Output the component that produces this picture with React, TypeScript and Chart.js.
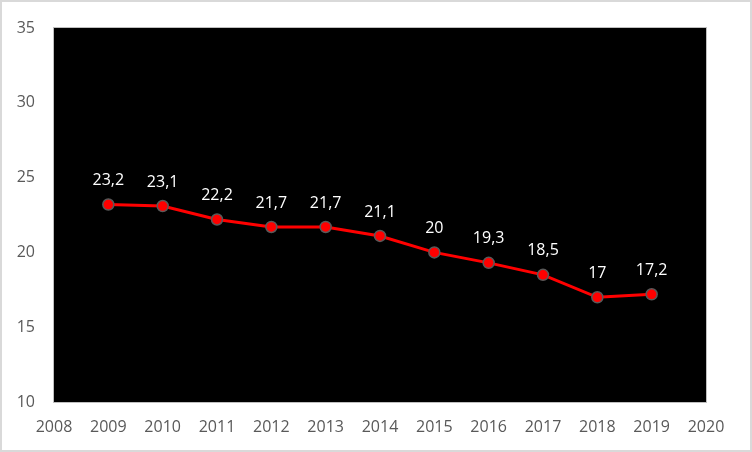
import { useEffect, useRef } from 'react';
import { Chart, registerables } from 'chart.js';

Chart.register(...registerables);

// values
const years = [2009, 2010, 2011, 2012, 2013, 2014, 2015, 2016, 2017, 2018, 2019];
const rates = [23.2, 23.1, 22.2, 21.7, 21.7, 21.1, 20, 19.3, 18.5, 17, 17.2];

const FONT = "'Open Sans', 'Noto Sans', sans-serif";

const frame = {
  id: 'frame',
  beforeDraw(chart: any) {
    const { ctx, chartArea: a, width, height } = chart;
    ctx.save();
    ctx.fillStyle = '#ffffff';
    ctx.fillRect(0, 0, width, height);
    ctx.strokeStyle = '#d9d9d9';
    ctx.lineWidth = 2;
    ctx.strokeRect(1, 1, width - 2, height - 2);
    ctx.fillStyle = '#000000';
    ctx.fillRect(a.left, a.top, a.right - a.left, a.bottom - a.top);
    ctx.strokeStyle = '#bfbfbf';
    ctx.lineWidth = 1;
    ctx.strokeRect(a.left - 0.5, a.top - 0.5, a.right - a.left + 1, a.bottom - a.top + 1);
    ctx.restore();
  },
};

const valueLabels = {
  id: 'valueLabels',
  afterDatasetsDraw(chart: any) {
    const { ctx } = chart;
    const meta = chart.getDatasetMeta(0);
    ctx.save();
    ctx.fillStyle = '#ffffff';
    ctx.font = `16px ${FONT}`;
    ctx.textAlign = 'center';
    ctx.textBaseline = 'middle';
    meta.data.forEach((pt: any, i: number) => {
      ctx.fillText(String(rates[i]).replace('.', ','), pt.x, pt.y - 24);
    });
    ctx.restore();
  },
};

const App = () => {
  const canvasRef = useRef<HTMLCanvasElement>(null);

  useEffect(() => {
    document.body.style.margin = '0';
    if (!canvasRef.current) return;
    const chart = new Chart(canvasRef.current, {
      type: 'line',
      data: {
        datasets: [{
          data: years.map((y, i) => ({ x: y, y: rates[i] })),
          borderColor: '#ff0000',
          borderWidth: 3,
          backgroundColor: '#ff0000',
          pointRadius: 5.5,
          pointBorderColor: '#595959',
          pointBorderWidth: 1.5,
          tension: 0,
        }],
      },
      options: {
        animation: false,
        responsive: false,
        layout: { padding: { top: 28, right: 46, left: 0, bottom: 0 } },
        plugins: { legend: { display: false }, tooltip: { enabled: false } },
        scales: {
          x: {
            type: 'linear',
            min: 2008,
            max: 2020,
            grid: { display: false },
            border: { display: false },
            afterFit: (s: any) => { s.height = 50; },
            ticks: {
              stepSize: 1,
              padding: 8,
              color: '#595959',
              font: { family: FONT, size: 16 },
              callback: (v: any) => String(v),
            },
          },
          y: {
            min: 10,
            max: 35,
            grid: { display: false },
            border: { display: false },
            afterFit: (s: any) => { s.width = 54; },
            ticks: {
              stepSize: 5,
              padding: 11,
              color: '#595959',
              font: { family: FONT, size: 16 },
            },
          },
        },
      },
      plugins: [frame, valueLabels],
    });
    return () => chart.destroy();
  }, []);

  return <canvas ref={canvasRef} width={752} height={452} style={{ display: 'block' }} />;
};

export default App;
